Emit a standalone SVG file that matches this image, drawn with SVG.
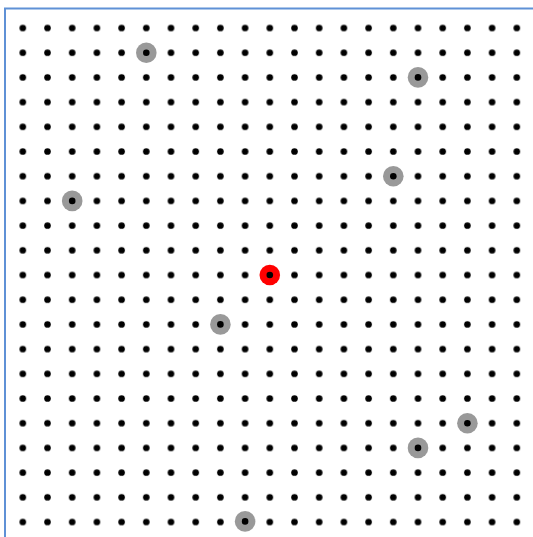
<svg xmlns="http://www.w3.org/2000/svg" width="533" height="537" viewBox="0 0 533 537">
  <style>
    .frame { stroke: #5f91d6; stroke-width: 2; fill: none; }
    .dot { fill: #000000; }
    .hl { fill: #999999; }
    .hl-red { fill: #ff0000; }
  </style>
  <defs>
    <pattern id="grid" patternUnits="userSpaceOnUse" x="10.45" y="15.65" width="24.7" height="24.7">
      <circle cx="12.35" cy="12.35" r="3.3" class="dot"/>
    </pattern>
  </defs>
  <rect x="0" y="0" width="533" height="537" fill="#ffffff"/>
  <path class="frame" d="M5,537 V8.5 H533"/>
  <rect x="10.45" y="15.65" width="518.7" height="518.7" fill="url(#grid)"/>
  <g id="highlights">
    <g id="h1"><circle class="hl" cx="146.3" cy="52.7" r="10.3"/><circle class="dot" cx="146.3" cy="52.7" r="3.3"/></g>
    <g id="h2"><circle class="hl" cx="418" cy="77.4" r="10.3"/><circle class="dot" cx="418" cy="77.4" r="3.3"/></g>
    <g id="h3"><circle class="hl" cx="393.3" cy="176.2" r="10.3"/><circle class="dot" cx="393.3" cy="176.2" r="3.3"/></g>
    <g id="h4"><circle class="hl" cx="72.2" cy="200.9" r="10.3"/><circle class="dot" cx="72.2" cy="200.9" r="3.3"/></g>
    <g id="center"><circle class="hl-red" cx="269.8" cy="275" r="10.3"/><circle class="dot" cx="269.8" cy="275" r="3.3"/></g>
    <g id="h5"><circle class="hl" cx="220.4" cy="324.4" r="10.3"/><circle class="dot" cx="220.4" cy="324.4" r="3.3"/></g>
    <g id="h6"><circle class="hl" cx="467.4" cy="423.2" r="10.3"/><circle class="dot" cx="467.4" cy="423.2" r="3.3"/></g>
    <g id="h7"><circle class="hl" cx="418" cy="447.9" r="10.3"/><circle class="dot" cx="418" cy="447.9" r="3.3"/></g>
    <g id="h8"><circle class="hl" cx="245.1" cy="521.4" r="10.3"/><circle class="dot" cx="245.1" cy="521.4" r="3.3"/></g>
  </g>
</svg>
